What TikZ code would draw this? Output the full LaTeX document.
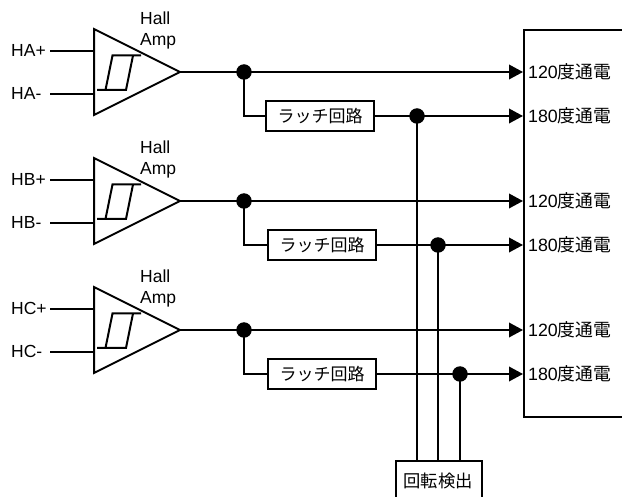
\documentclass[tikz,border=0pt]{standalone}
\usepackage{fontspec}
\setmainfont{Liberation Sans}
\newfontfamily\cjk{Noto Sans CJK JP}
\usetikzlibrary{arrows.meta}
\tikzset{
  wire/.style={line width=2pt,line join=miter},
  feed/.style={wire,-{Triangle[width=14.5pt,length=14pt]}},
  box/.style={draw,line width=2pt,fill=white,inner sep=0pt,font=\cjk\fontsize{17}{20}\selectfont},
  jun/.style={circle,fill=black,inner sep=0pt,minimum size=15.5pt},
  lab/.style={inner sep=0pt,font=\fontsize{17.5}{20}\selectfont,anchor=base west},
  port/.style={inner sep=0pt,font=\fontsize{17.8}{20}\selectfont,anchor=west},
}
\newcommand{\jp}[1]{{\cjk #1}}
\newcommand{\ampunit}[4]{%
  \begin{scope}[yshift=-#2pt]
    \coordinate (in#1p) at (94,21);
    \coordinate (in#1m) at (94,-22);
    \node[lab] (pl#1) at (11,15) {H#1+};
    \node[lab] (mi#1) at (11,-28) {H#1-};
    \draw[wire] (50,21) -- (in#1p);
    \draw[wire] (50,-22) -- (in#1m);
    \draw[wire] (94,43) -- (94,-43) -- (180,0) coordinate (out#1) -- cycle;
    \draw[wire] (141,16.5) -- (112.5,16.5) -- (105.5,-18);
    \draw[wire] (133,16.5) -- (126,-18) -- (97,-18);
    \node[lab] (hall#1) at (140,47) {Hall};
    \node[lab] (amp#1) at (140,26) {Amp};
    \node[jun] (j#1) at (244,0) {};
    \coordinate (a#1) at (523,0);
    \coordinate (b#1) at (523,-44);
    \coordinate (c#1) at (244,-44);
    \node[box,minimum width=108pt,minimum height=30pt] (l#1) at (#3,-44) {ラッチ回路};
    \node[jun] (k#1) at (#4,-44) {};
    \draw[feed] (out#1) -- (a#1);
    \draw[wire] (j#1.center) -- (c#1) -- (l#1.west);
    \draw[feed] (l#1.east) -- (b#1);
    \node[port] (pa#1) at (528,0) {120\jp{度通電}};
    \node[port] (pb#1) at (528,-44) {180\jp{度通電}};
  \end{scope}}
\begin{document}
\begin{tikzpicture}[x=1pt,y=1pt]
\useasboundingbox (0,0) rectangle (622,-497);
\draw[wire] (623,-30) -- (524,-30) -- (524,-417) -- (623,-417);
\ampunit{A}{72}{320}{417}
\ampunit{B}{201}{322}{438}
\ampunit{C}{330}{322}{460}
\node[box,minimum width=86pt,minimum height=39pt,anchor=north west] (det) at (395,-460) {};
\node[inner sep=0pt,font=\cjk\fontsize{17.3}{20}\selectfont] (dett) at (438,-481) {回転検出};
\coordinate (dA) at (417,-460);
\coordinate (dB) at (438,-460);
\coordinate (dC) at (460,-460);
\draw[line width=1.7pt] (kA.center) -- (dA);
\draw[line width=1.7pt] (kB.center) -- (dB);
\draw[line width=1.7pt] (kC.center) -- (dC);
\end{tikzpicture}
\end{document}
